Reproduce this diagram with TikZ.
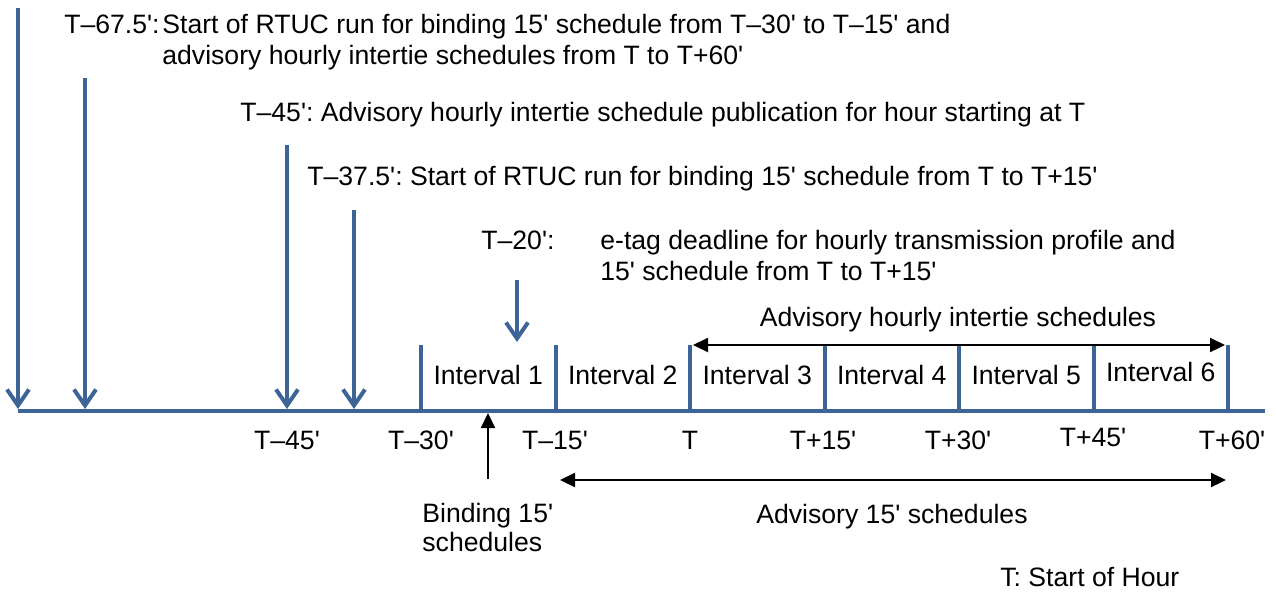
\documentclass[tikz,border=0pt]{standalone}
\usepackage{fontspec}
\setmainfont{Liberation Sans}[Ligatures=TeXOff]
\usetikzlibrary{arrows.meta}
\definecolor{lineblue}{RGB}{60,100,150}
\tikzset{
	tl/.style = {lineblue, line width=2pt},
	tlarrow/.style = {tl, -{Straight Barb[length=8pt,width=11pt,line width=2pt]}},
	span/.style = {black, line width=1.1pt, {Triangle[length=7.5pt,width=7pt]}-{Triangle[length=7.5pt,width=7pt]}},
	upward/.style = {black, line width=1.1pt, -{Triangle[length=7.5pt,width=7pt]}},
	lbl/.style = {inner sep=0pt, anchor=base west},
	tick/.style = {inner sep=0pt, anchor=base},
}
\begin{document}
\frenchspacing
\begin{tikzpicture}[x=0.5pt, y=-0.5pt, font=\fontsize{13.3}{15}\selectfont, line join=round, >=stealth]
				\useasboundingbox (0,0) rectangle (1276,591);
				\path
				(18,411) coordinate (L)
				(1265,411) coordinate (R)
				(18,8) coordinate (a1) (18,409) coordinate (b1)
				(85,78) coordinate (a2) (85,409) coordinate (b2)
				(287,145) coordinate (a3) (287,409) coordinate (b3)
				(354,210) coordinate (a4) (354,409) coordinate (b4)
				(517,280) coordinate (a5) (517,342) coordinate (b5)
				(693,345) coordinate (H1) (1225,345) coordinate (H2)
				(560,480) coordinate (A1) (1226,480) coordinate (A2)
				(488,479) coordinate (B1) (488,413) coordinate (B2)
				;
				% time line and interval ticks
				\draw[tl] (L)--(R);
				\foreach \i in {0,...,6}{
					\path (421+134.5*\i,411) coordinate (t\i) (421+134.5*\i,345) coordinate (u\i);
					\draw[tl] (t\i)--(u\i);
				}
				\foreach \n/\yb in {1/384,2/384,3/384,4/384,5/384,6/381}
					\node[tick] (int\n) at (421+134.5*\n-67.25,\yb) {Interval \n};
				% event arrows
				\foreach \i in {1,...,5}
					\draw[tlarrow] (a\i)--(b\i);
				% time labels
				\node[tick] (m45) at (287,449) {T–45'};
				\node[tick] (m30) at (421,449) {T–30'};
				\node[tick] (m15) at (555,449) {T–15'};
				\node[tick] (p0) at (690,449) {T};
				\node[tick] (p15) at (823,449) {T+15'};
				\node[tick] (p30) at (958,449) {T+30'};
				\node[tick] (p45) at (1093,446) {T+45'};
				\node[tick] (p60) at (1232,449) {T+60'};
				% event texts
				\node[lbl, anchor=base east] (e1) at (160,33) {T–67.5':};
				\node[lbl] (e1a) at (162,33) {Start of RTUC run for binding 15' schedule from T–30' to T–15' and};
				\node[lbl] (e1b) at (162,64) {advisory hourly intertie schedules from T to T+60'};
				\node[lbl] (e2) at (240,121) {T–45': Advisory hourly intertie schedule publication for hour starting at T};
				\node[lbl] (e3) at (307,185) {T–37.5': Start of RTUC run for binding 15' schedule from T to T+15'};
				\node[lbl] (e4) at (481,249) {T–20':};
				\node[lbl] (e4a) at (600,249) {e-tag deadline for hourly transmission profile and};
				\node[lbl] (e4b) at (600,280) {15' schedule from T to T+15'};
				% schedule spans
				\draw[span] (H1)--(H2);
				\node[tick] (hourly) at (958,326) {Advisory hourly intertie schedules};
				\draw[span] (A1)--(A2);
				\node[tick] (adv) at (892,523) {Advisory 15' schedules};
				\draw[upward] (B1)--(B2);
				\node[lbl] (bind) at (422,522) {Binding 15'};
				\node[lbl] (bind2) at (422,551) {schedules};
				\node[lbl] (note) at (1000,586) {T: Start of Hour};
			\end{tikzpicture}
\end{document}
